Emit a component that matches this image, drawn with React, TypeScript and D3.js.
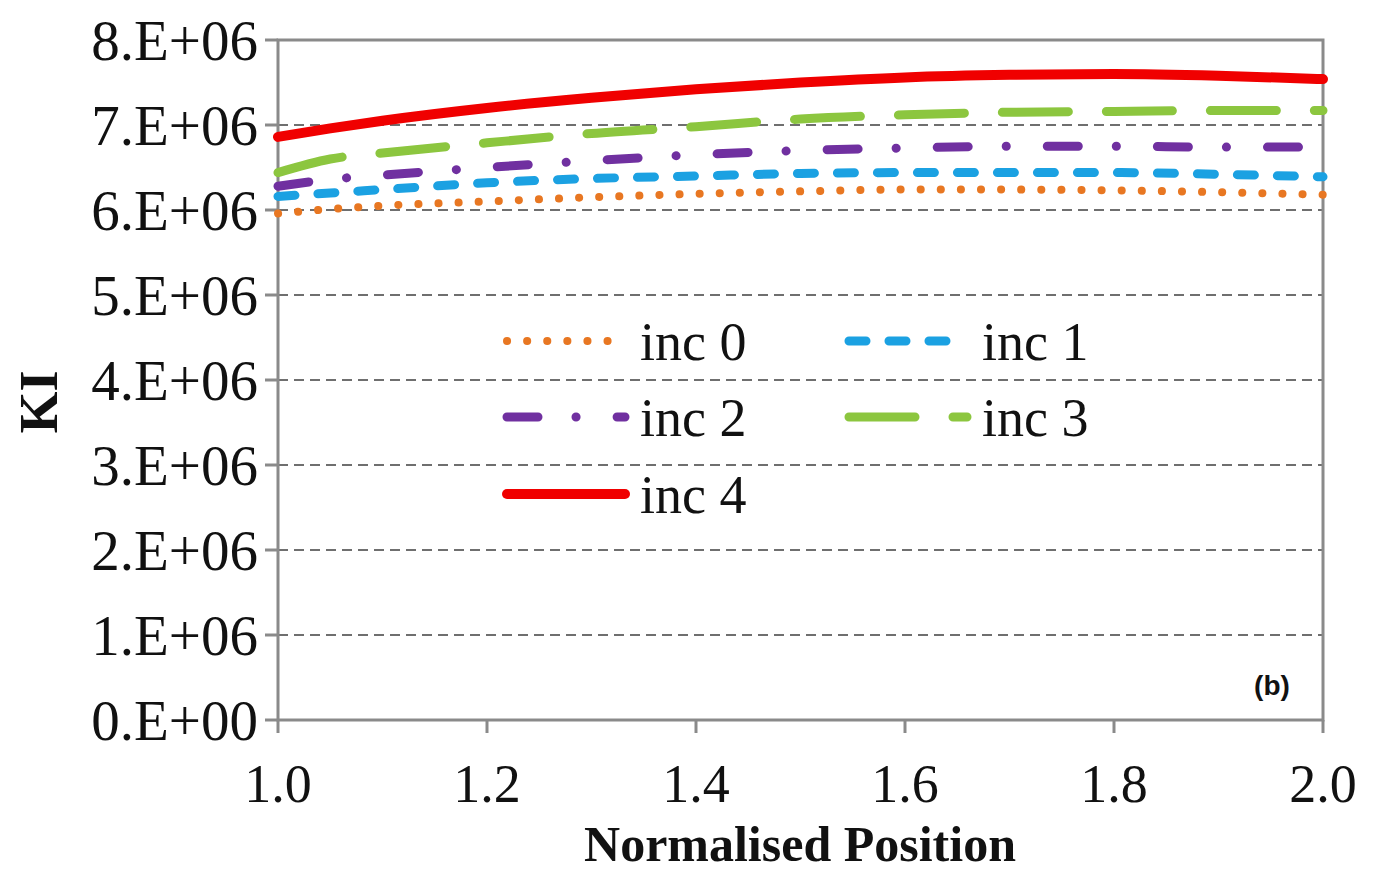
import React from "react";
import * as d3 from "d3";

const positions = [1.0, 1.05, 1.1, 1.2, 1.3, 1.4, 1.5, 1.6, 1.7, 1.8, 1.9, 2.0];
const inc0 = [5.96e6, 6.01e6, 6.05e6, 6.1e6, 6.15e6, 6.19e6, 6.22e6, 6.24e6, 6.24e6, 6.23e6, 6.21e6, 6.18e6];
const inc1 = [6.16e6, 6.2e6, 6.24e6, 6.32e6, 6.37e6, 6.4e6, 6.43e6, 6.44e6, 6.44e6, 6.44e6, 6.42e6, 6.39e6];
const inc2 = [6.28e6, 6.36e6, 6.41e6, 6.5e6, 6.58e6, 6.65e6, 6.7e6, 6.73e6, 6.75e6, 6.75e6, 6.74e6, 6.74e6];
const inc3 = [6.44e6, 6.6e6, 6.67e6, 6.79e6, 6.9e6, 6.98e6, 7.07e6, 7.12e6, 7.15e6, 7.16e6, 7.17e6, 7.17e6];
const inc4 = [6.86e6, 6.96e6, 7.05e6, 7.2e6, 7.32e6, 7.42e6, 7.5e6, 7.56e6, 7.59e6, 7.6e6, 7.58e6, 7.54e6];

const seriesNames = ["inc 0", "inc 1", "inc 2", "inc 3", "inc 4"];
const yTicks = [0, 1e6, 2e6, 3e6, 4e6, 5e6, 6e6, 7e6, 8e6];
const yTickLabels = ["0.E+00", "1.E+06", "2.E+06", "3.E+06", "4.E+06", "5.E+06", "6.E+06", "7.E+06", "8.E+06"];
const xTicks = [1.0, 1.2, 1.4, 1.6, 1.8, 2.0];
const xTickLabels = ["1.0", "1.2", "1.4", "1.6", "1.8", "2.0"];

const styles = [
  { color: "#E87722", width: 8, dash: "0.1,20", cap: "round" },
  { color: "#1BA1E2", width: 9, dash: "17,23", cap: "round" },
  { color: "#7030A0", width: 9, dash: "31,38,0.1,41", cap: "round" },
  { color: "#8CC63F", width: 9, dash: "66,38", cap: "round" },
  { color: "#F00000", width: 10, dash: "none", cap: "round" },
];

export default function App() {
  const W = 1375, H = 871;
  const left = 278, right = 1323, top = 40, bottom = 720;
  const x = d3.scaleLinear().domain([1, 2]).range([left, right]);
  const y = d3.scaleLinear().domain([0, 8e6]).range([bottom, top]);
  const line = d3.line<number>()
    .x((_, i) => x(positions[i]))
    .y((d) => y(d))
    .curve(d3.curveMonotoneX);
  const data = [inc0, inc1, inc2, inc3, inc4];
  const serif = "'Liberation Serif', 'Times New Roman', serif";
  const legendPos = [
    { lx: 503, ly: 341 },
    { lx: 845, ly: 341 },
    { lx: 503, ly: 417 },
    { lx: 845, ly: 417 },
    { lx: 503, ly: 494 },
  ];
  return (
    <svg width={W} height={H} style={{ position: "absolute", left: 0, top: 0, background: "#fff" }}>
      <rect x={0} y={0} width={W} height={H} fill="#fff" />
      {yTicks.slice(1, -1).map((t) => (
        <line key={t} x1={left} x2={right} y1={y(t)} y2={y(t)} stroke="#6f6f6f" strokeWidth={2} strokeDasharray="10,6" />
      ))}
      <rect x={left} y={top} width={right - left} height={bottom - top} fill="none" stroke="#8a8a8a" strokeWidth={3} />
      {yTicks.map((t, i) => (
        <g key={"y" + t}>
          <line x1={left - 13} x2={left} y1={y(t)} y2={y(t)} stroke="#8a8a8a" strokeWidth={3} />
          <text x={258} y={y(t)} dy="0.35em" textAnchor="end" fontFamily={serif} fontSize={57} fill="#111">
            {yTickLabels[i]}
          </text>
        </g>
      ))}
      {xTicks.map((t, i) => (
        <g key={"x" + t}>
          <line x1={x(t)} x2={x(t)} y1={bottom} y2={bottom + 13} stroke="#8a8a8a" strokeWidth={3} />
          <text x={x(t)} y={802} textAnchor="middle" fontFamily={serif} fontSize={54} fill="#111">
            {xTickLabels[i]}
          </text>
        </g>
      ))}
      {data.map((d, i) => (
        <path key={seriesNames[i]} d={line(d) || ""} fill="none" stroke={styles[i].color}
          strokeWidth={styles[i].width} strokeDasharray={styles[i].dash}
          strokeLinecap={styles[i].cap as any} strokeLinejoin="round" />
      ))}
      {seriesNames.map((n, i) => (
        <g key={"lg" + n}>
          <line x1={legendPos[i].lx + 4} x2={legendPos[i].lx + 122} y1={legendPos[i].ly} y2={legendPos[i].ly}
            stroke={styles[i].color} strokeWidth={styles[i].width} strokeDasharray={styles[i].dash}
            strokeLinecap={styles[i].cap as any} />
          <text x={legendPos[i].lx + 137} y={legendPos[i].ly} dy="0.35em" fontFamily={serif} fontSize={54} fill="#111">
            {n}
          </text>
        </g>
      ))}
      <text x={1272} y={685} dy="0.35em" textAnchor="middle" fontFamily="'Liberation Sans', Arial, sans-serif"
        fontWeight="bold" fontSize={28} fill="#111">(b)</text>
      <text x={800} y={861} textAnchor="middle" fontFamily={serif} fontWeight="bold" fontSize={50} fill="#111">
        Normalised Position
      </text>
      <text transform="translate(38,402) rotate(-90)" dy="0.35em" textAnchor="middle" fontFamily={serif}
        fontWeight="bold" fontSize={54} fill="#111">KI</text>
    </svg>
  );
}
